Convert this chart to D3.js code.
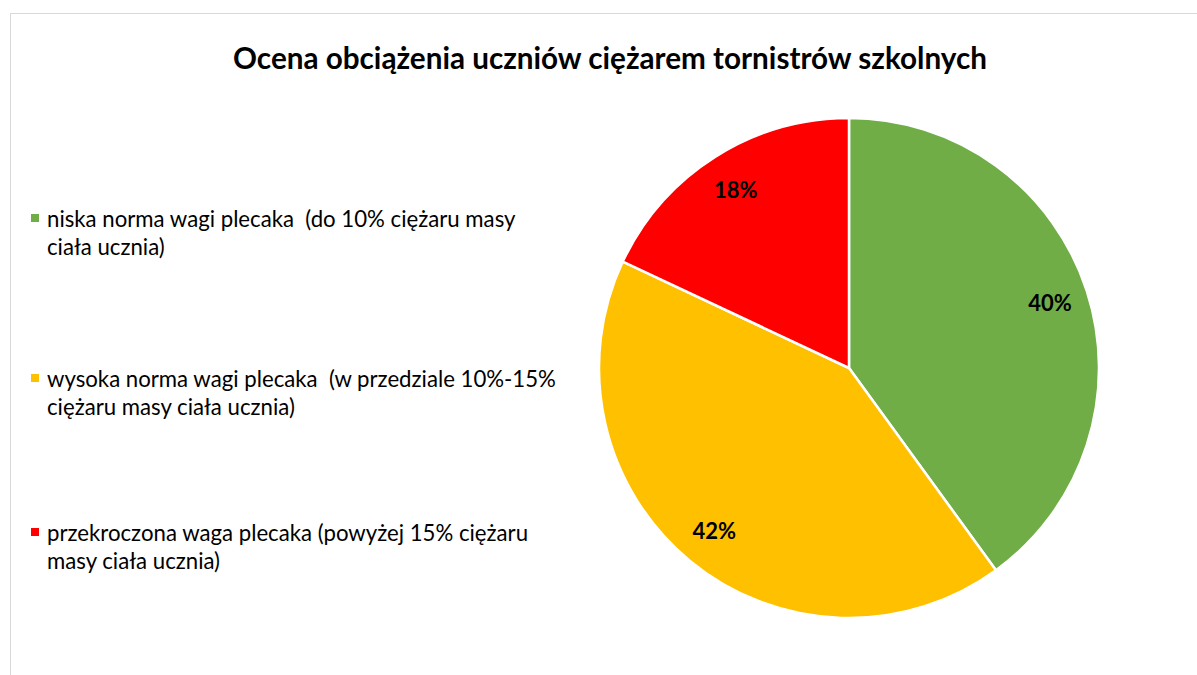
<!DOCTYPE html>
<html>
<head>
<meta charset="utf-8">
<script src="https://cdn.jsdelivr.net/npm/d3@7"></script>
<style>
  html, body { margin: 0; padding: 0; background: #fff; }
  svg { display: block; }
  text { white-space: pre; }
</style>
</head>
<body>
<script>
// ---- data ----
const title = "Ocena obciążenia uczniów ciężarem tornistrów szkolnych";
const categories = [
  "niska norma wagi plecaka  (do 10% ciężaru masy ciała ucznia)",
  "wysoka norma wagi plecaka  (w przedziale 10%-15% ciężaru masy ciała ucznia)",
  "przekroczona waga plecaka (powyżej 15% ciężaru masy ciała ucznia)"
];
const legendLines = [
  ["niska norma wagi plecaka  (do 10% ciężaru masy", "ciała ucznia)"],
  ["wysoka norma wagi plecaka  (w przedziale 10%-15%", "ciężaru masy ciała ucznia)"],
  ["przekroczona waga plecaka (powyżej 15% ciężaru", "masy ciała ucznia)"]
];
const values = [40, 42, 18];
const valueLabels = ["40%", "42%", "18%"];
const colors = ["#70AD47", "#FFC000", "#FF0000"];

// ---- layout ----
const W = 1197, H = 675;
const svg = d3.select("body").append("svg").attr("width", W).attr("height", H);

// chart area border (extends beyond the visible window)
svg.append("rect")
  .attr("x", 10.5).attr("y", 13.5)
  .attr("width", W + 20).attr("height", H + 20)
  .attr("fill", "#fff").attr("stroke", "#d9d9d9").attr("stroke-width", 1);

const FONT = "Lato, Carlito, 'Open Sans', sans-serif";

function fit(sel, target) {
  let fs = parseFloat(sel.attr("font-size"));
  const w = sel.node().getComputedTextLength();
  return fs * target / w;
}

// title
const t = svg.append("text")
  .attr("x", 610).attr("y", 57)
  .attr("text-anchor", "middle").attr("dominant-baseline", "central")
  .attr("font-family", FONT).attr("font-weight", "bold")
  .attr("font-size", 26).attr("fill", "#000")
  .text(title);
t.attr("font-size", fit(t, 754));

// pie
const cx = 849, cy = 368, R = 250;
const pie = d3.pie().sort(null).value(d => d)(values);
const arc = d3.arc().innerRadius(0).outerRadius(R);
const labelArc = d3.arc().innerRadius(R * 0.845).outerRadius(R * 0.845);
const g = svg.append("g").attr("transform", `translate(${cx},${cy})`);

g.selectAll("path").data(pie).join("path")
  .attr("d", arc)
  .attr("fill", (d, i) => colors[i])
  .attr("stroke", "#fff").attr("stroke-width", 2.5)
  .attr("stroke-linejoin", "round");

g.selectAll("text.lbl").data(pie).join("text")
  .attr("class", "lbl")
  .attr("transform", d => `translate(${labelArc.centroid(d)})`)
  .attr("text-anchor", "middle").attr("dominant-baseline", "central")
  .attr("font-family", FONT).attr("font-weight", "bold")
  .attr("font-size", 22).attr("fill", "#000")
  .text((d, i) => valueLabels[i]);

// legend
const legendY = [218, 378, 532];
const lineH = 28.5;
const lg = svg.append("g");
let legendFs = 20;
// measure longest line
const probe = lg.append("text").attr("font-family", FONT).attr("font-size", 20).text(legendLines[1][0]);
legendFs = fit(probe, 509);
probe.remove();

categories.forEach((c, i) => {
  const item = lg.append("g").attr("class", "legend-item");
  item.append("rect")
    .attr("x", 31).attr("y", legendY[i] - 4)
    .attr("width", 8).attr("height", 8)
    .attr("fill", colors[i]);
  legendLines[i].forEach((ln, j) => {
    item.append("text")
      .attr("x", 47).attr("y", legendY[i] + j * lineH)
      .attr("dominant-baseline", "central")
      .attr("font-family", FONT).attr("font-size", legendFs)
      .attr("fill", "#000")
      .text(ln);
  });
});
</script>
</body>
</html>
